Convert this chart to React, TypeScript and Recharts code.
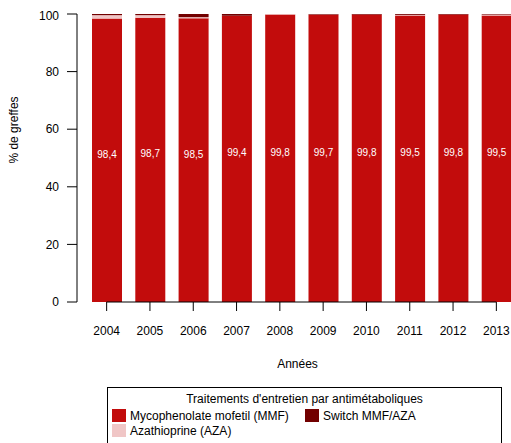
import React from 'react';
import { BarChart, Bar, XAxis, YAxis, LabelList, ReferenceLine } from 'recharts';

const years = ['2004', '2005', '2006', '2007', '2008', '2009', '2010', '2011', '2012', '2013'];
const mmf = [98.4, 98.7, 98.5, 99.4, 99.8, 99.7, 99.8, 99.5, 99.8, 99.5];
const aza = [1.2, 0.9, 0.4, 0, 0.2, 0.1, 0, 0.2, 0, 0.3];
const switchMA = [0.4, 0.4, 1.1, 0.6, 0, 0.2, 0.2, 0.3, 0.2, 0.2];
const yTicks = [0, 20, 40, 60, 80, 100];

const COL_MMF = '#C20C0C';
const COL_AZA = '#F0C6C6';
const COL_SW = '#720000';
const FONT = '"Liberation Sans", Arial, sans-serif';

const data = years.map((y, i) => ({ year: y, mmf: mmf[i], aza: aza[i], sw: switchMA[i] }));

const fmt = (v: number) => v.toFixed(1).replace('.', ',');

const ValueLabel = (props: any) => {
  const { x, y, width, height, value } = props;
  return (
    <text
      x={x + width / 2}
      y={y + height / 2 - 6}
      fill="#ffffff"
      fontSize={10}
      fontFamily={FONT}
      textAnchor="middle"
      dominantBaseline="central"
    >
      {fmt(value)}
    </text>
  );
};

const YLabel = (props: any) => {
  const { viewBox } = props;
  const cx = viewBox.x + 6;
  const cy = viewBox.y + viewBox.height / 2 - 28;
  return (
    <text
      x={cx}
      y={cy}
      transform={`rotate(-90, ${cx}, ${cy})`}
      fill="#000"
      fontSize={12}
      fontFamily={FONT}
      textAnchor="middle"
      dominantBaseline="central"
    >
      % de greffes
    </text>
  );
};

const Swatch = ({ color }: { color: string }) => (
  <span style={{ display: 'inline-block', width: 14, height: 13, background: color, marginRight: 4, verticalAlign: 'middle' }} />
);

export default function App() {
  return (
    <div style={{ width: 511, height: 443, paddingLeft: 8, paddingTop: 8, boxSizing: 'border-box', overflow: 'hidden' }}>
      <style>{`html { overflow: hidden; } body { margin: 0; }`}</style>
      <div style={{ position: 'relative', width: 503, height: 435, overflow: 'hidden', fontFamily: FONT }}>
        <BarChart
          width={515}
          height={435}
          data={data}
          margin={{ top: 6, right: 5, left: 0, bottom: 71 }}
          barSize={30}
        >
          <XAxis
            dataKey="year"
            axisLine={false}
            tickLine={{ stroke: '#000' }}
            tickSize={9}
            tickMargin={15}
            height={70}
            padding={{ left: 8, right: 0 }}
            tick={{ fill: '#000', fontSize: 12, fontFamily: FONT }}
            interval={0}
            label={{ value: 'Années', position: 'insideBottom', offset: 4, fill: '#000', fontSize: 12, fontFamily: FONT }}
          />
          <YAxis
            width={69}
            domain={[0, 100]}
            ticks={yTicks}
            axisLine={{ stroke: '#000' }}
            tickLine={{ stroke: '#000' }}
            tickSize={10}
            tickMargin={8}
            tick={{ fill: '#000', fontSize: 12, fontFamily: FONT }}
            label={<YLabel />}
          />
          <Bar dataKey="mmf" stackId="a" fill={COL_MMF} isAnimationActive={false}>
            <LabelList dataKey="mmf" content={<ValueLabel />} />
          </Bar>
          <Bar dataKey="aza" stackId="a" fill={COL_AZA} isAnimationActive={false} />
          <Bar dataKey="sw" stackId="a" fill={COL_SW} isAnimationActive={false} />
          <ReferenceLine
            segment={[{ x: '2004', y: 0 }, { x: '2013', y: 0 }]}
            stroke="#000"
            strokeWidth={1}
          />
        </BarChart>
        <div
          style={{
            position: 'absolute',
            left: 99,
            top: 379,
            width: 393,
            height: 70,
            border: '1px solid #000',
            fontSize: 12,
            lineHeight: '14px',
            color: '#000',
          }}
        >
          <div style={{ textAlign: 'center', marginTop: 4 }}>Traitements d'entretien par antimétaboliques</div>
          <div style={{ marginLeft: 4, marginTop: 2, display: 'flex' }}>
            <span style={{ width: 193 }}>
              <Swatch color={COL_MMF} />
              <span style={{ verticalAlign: 'middle' }}>Mycophenolate mofetil (MMF)</span>
            </span>
            <span>
              <Swatch color={COL_SW} />
              <span style={{ verticalAlign: 'middle' }}>Switch MMF/AZA</span>
            </span>
          </div>
          <div style={{ marginLeft: 4, marginTop: 0 }}>
            <Swatch color={COL_AZA} />
            <span style={{ verticalAlign: 'middle' }}>Azathioprine (AZA)</span>
          </div>
        </div>
      </div>
    </div>
  );
}
